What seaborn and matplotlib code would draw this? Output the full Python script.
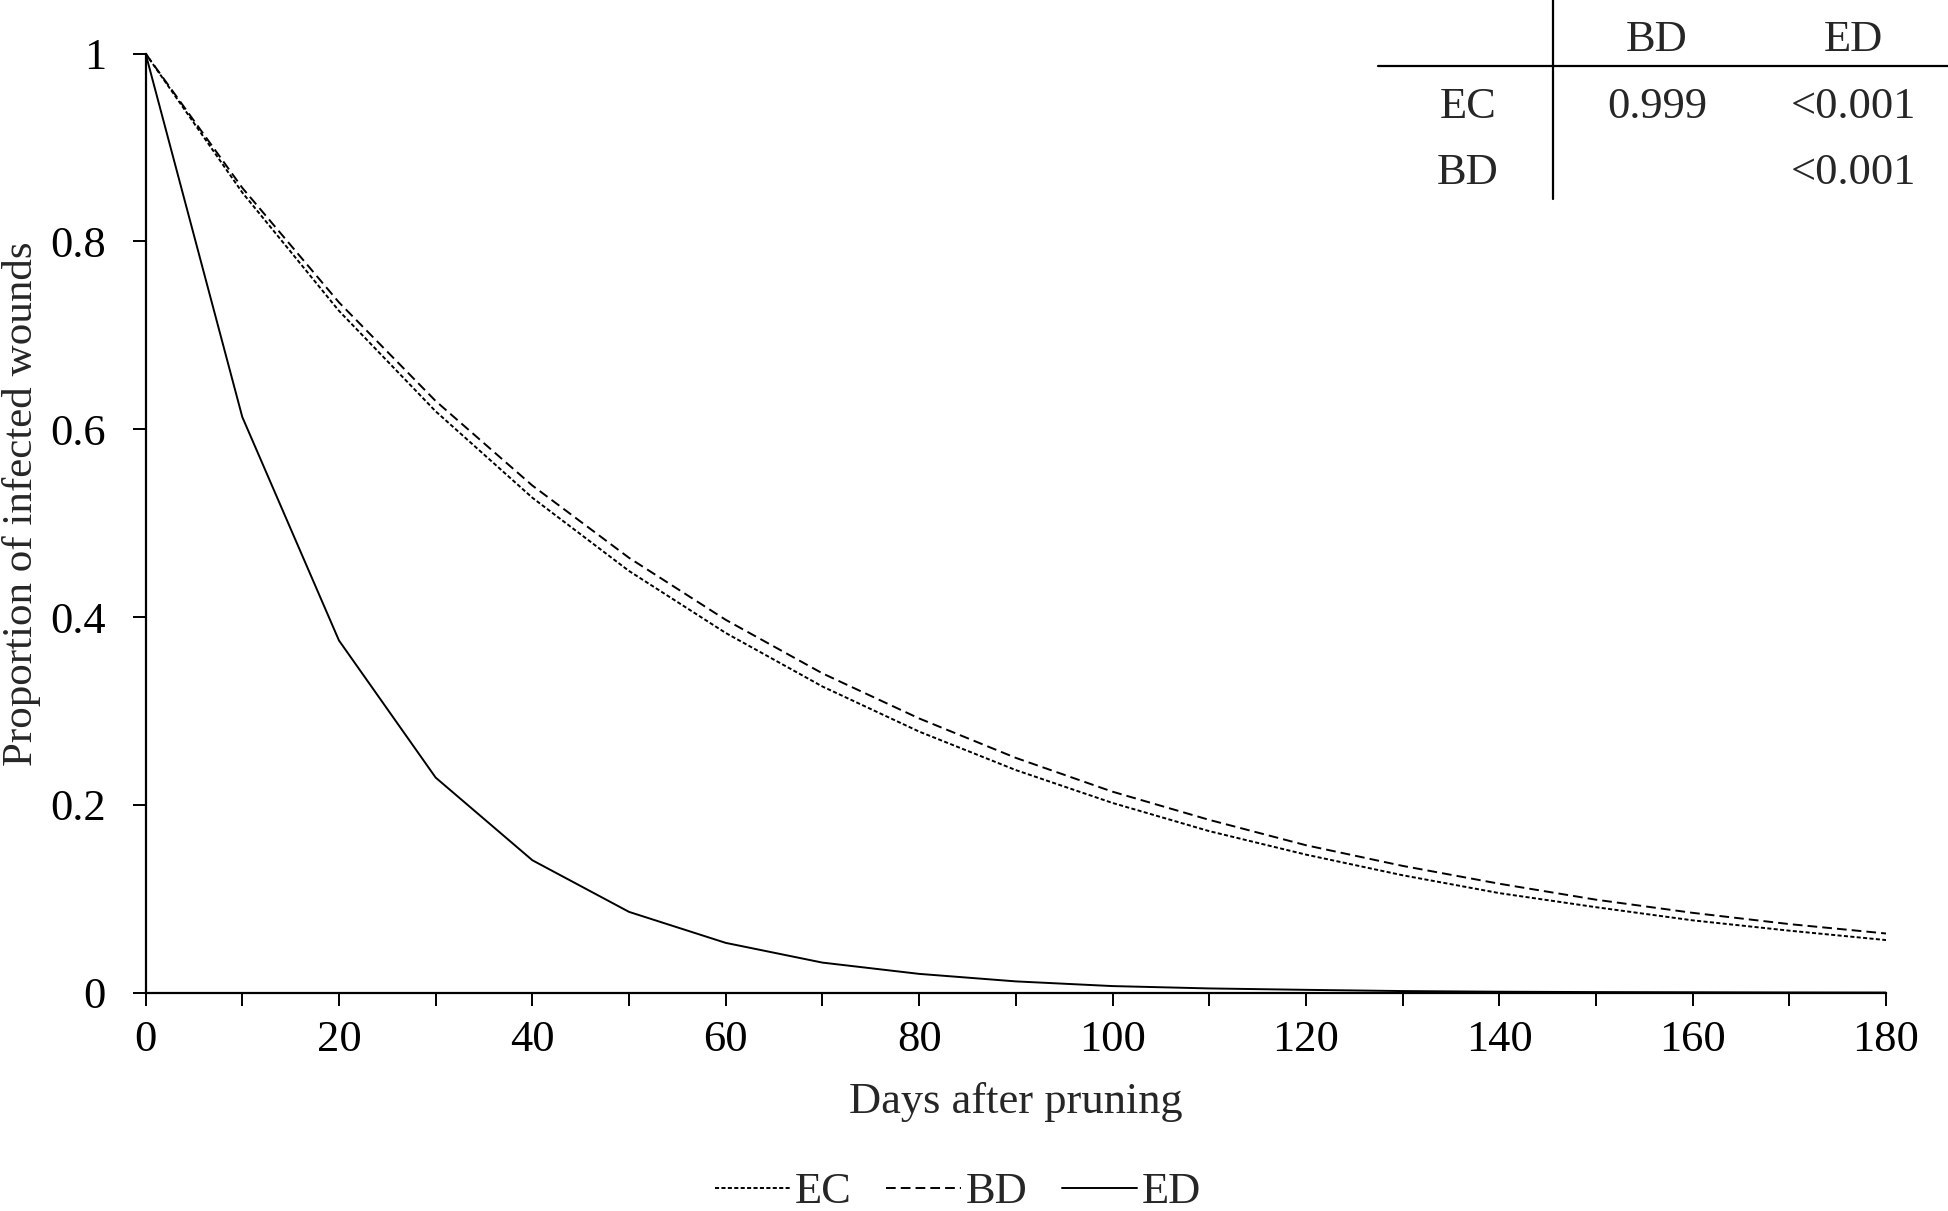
import numpy as np
import pandas as pd
import matplotlib
matplotlib.use("Agg")
import matplotlib.pyplot as plt
import seaborn as sns
from matplotlib.lines import Line2D

days = [0, 10, 20, 30, 40, 50, 60, 70, 80, 90, 100, 110, 120, 130, 140, 150, 160, 170, 180]
ec = [1.0, 0.852, 0.726, 0.619, 0.527, 0.449, 0.383, 0.326, 0.278, 0.237, 0.202, 0.172,
      0.147, 0.125, 0.106, 0.091, 0.077, 0.066, 0.056]
bd = [1.0, 0.857, 0.735, 0.630, 0.540, 0.463, 0.397, 0.340, 0.292, 0.250, 0.214, 0.184,
      0.157, 0.135, 0.116, 0.099, 0.085, 0.073, 0.063]
ed = [1.0, 0.613, 0.375, 0.229, 0.141, 0.086, 0.053, 0.032, 0.020, 0.012, 0.007, 0.0045,
      0.003, 0.0017, 0.001, 0.0006, 0.0004, 0.0002, 0.0001]
series_names = ["EC", "BD", "ED"]

x_ticks = [0, 20, 40, 60, 80, 100, 120, 140, 160, 180]
y_ticks = [0, 0.2, 0.4, 0.6, 0.8, 1.0]
y_tick_labels = ["0", "0.2", "0.4", "0.6", "0.8", "1"]

table_cols = ["BD", "ED"]
table_rows = ["EC", "BD"]
table_vals = [["0.999", "<0.001"], ["", "<0.001"]]

df = pd.DataFrame({
    "day": days * 3,
    "prop": ec + bd + ed,
    "group": sum([[n] * len(days) for n in series_names], []),
})

sns.set_theme(style="ticks")
plt.rcParams["font.family"] = ["Liberation Serif", "DejaVu Serif"]

FS = 32

fig = plt.figure(figsize=(19.49, 12.11), dpi=100)
ax = fig.add_axes([0.0747, 0.1803, 0.8930, 0.7755])

dash_map = {"EC": (2.1, 1.2), "BD": (5.0, 2.6), "ED": ""}
sns.lineplot(data=df, x="day", y="prop", hue="group", style="group",
             palette={n: "black" for n in series_names}, dashes=dash_map,
             linewidth=1.4, ax=ax, legend=False)

ax.set_xlim(0, 180)
ax.set_ylim(0, 1)
ax.set_xticks(x_ticks)
ax.set_xticks(range(0, 181, 10), minor=True)
ax.set_yticks(y_ticks)
ax.set_yticklabels(y_tick_labels)
ax.tick_params(axis="both", which="both", direction="out", length=9.5, width=1.4,
               color="black", labelsize=FS, labelcolor="black")
ax.tick_params(axis="x", which="both", pad=10)
ax.tick_params(axis="y", which="both", pad=19)
for s in ["top", "right"]:
    ax.spines[s].set_visible(False)
for s in ["left", "bottom"]:
    ax.spines[s].set_linewidth(1.6)
    ax.spines[s].set_color("black")
ax.set_xlabel("Days after pruning", fontsize=FS, labelpad=16)
ax.set_ylabel("Proportion of infected wounds", fontsize=31)
ax.yaxis.set_label_coords(-0.060, 0.521)

# legend
handles = [Line2D([], [], color="black", lw=1.4, dashes=dash_map[n]) if dash_map[n] else
           Line2D([], [], color="black", lw=1.4) for n in series_names]
fig.legend(handles, series_names, loc="center", bbox_to_anchor=(0.4915, 1 - 1192 / 1211),
           ncol=3, frameon=False, fontsize=FS, handlelength=1.7, handletextpad=0.11,
           columnspacing=0.76, borderpad=0.0)

# p-value table (figure pixel coordinates)
W, H = 1949, 1211
def fx(px):
    return px / W
def fy(py):
    return 1 - py / H

fig.add_artist(Line2D([fx(1378), fx(1949)], [fy(66), fy(66)], color="black", lw=1.6,
                      transform=fig.transFigure))
fig.add_artist(Line2D([fx(1553.5), fx(1553.5)], [fy(0), fy(199)], color="black", lw=1.6,
                      transform=fig.transFigure))
col_x = [1657, 1853]
row_y = [107, 173]
for c, name in enumerate(table_cols):
    fig.text(fx(col_x[c]), fy(40), name, ha="center", va="center", fontsize=FS)
for r, name in enumerate(table_rows):
    fig.text(fx(1468), fy(row_y[r]), name, ha="center", va="center", fontsize=FS)
    for c in range(len(table_cols)):
        if table_vals[r][c]:
            fig.text(fx(col_x[c]), fy(row_y[r]), table_vals[r][c], ha="center",
                     va="center", fontsize=FS)

fig.savefig("out.png", dpi=100)
